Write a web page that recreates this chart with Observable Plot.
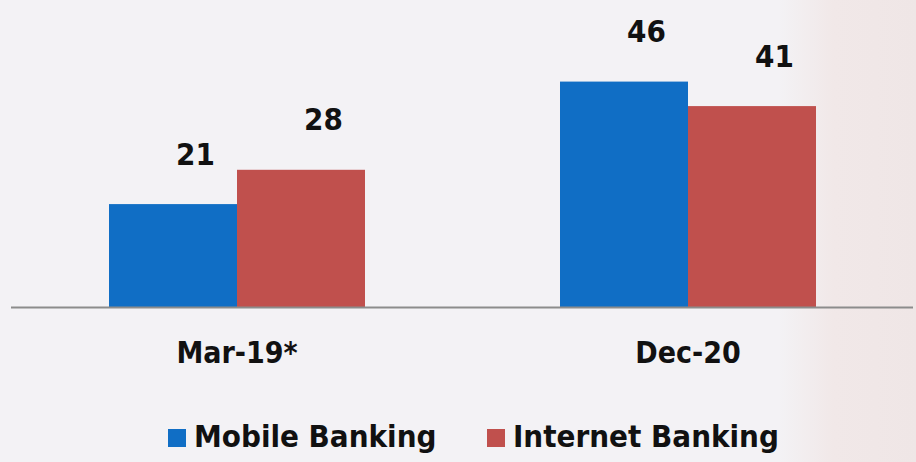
<!DOCTYPE html>
<html>
<head>
<meta charset="utf-8">
<script src="https://cdn.jsdelivr.net/npm/d3@7"></script>
<script src="https://cdn.jsdelivr.net/npm/@observablehq/plot@0.6"></script>
<style>
  html, body { margin: 0; padding: 0; }
  body {
    width: 916px; height: 462px; overflow: hidden;
    background: linear-gradient(to right, #f3f2f5 0%, #f3f2f5 85%, #f1e8e8 91%, #efe6e6 100%);
    font-family: "DejaVu Sans Condensed", "DejaVu Sans", sans-serif;
  }
  #legend {
    height: 52px; position: relative;
    font-weight: bold; font-size: 31px; color: #111;
  }
  .item { position: absolute; top: 8px; display: flex; align-items: center; }
  .sw { width: 18px; height: 18px; margin-right: 8px; margin-top: 4px; }
</style>
</head>
<body>
<div id="chart"></div>
<div id="legend"></div>
<script>
const periods = ["Mar-19*", "Dec-20"];
const series = ["Mobile Banking", "Internet Banking"];
const mobile = [21, 46];
const internet = [28, 41];
const colors = ["#106ec5", "#c0504d"];

const data = [];
periods.forEach((p, i) => {
  data.push({period: p, series: series[0], value: mobile[i]});
  data.push({period: p, series: series[1], value: internet[i]});
});

const chart = Plot.plot({
  width: 916,
  height: 410,
  marginLeft: 11,
  marginRight: 3,
  marginTop: 0,
  marginBottom: 103,
  style: {background: "transparent", fontFamily: "'DejaVu Sans Condensed', 'DejaVu Sans', sans-serif", color: "#111"},
  fx: {domain: periods, padding: 0, label: null},
  x: {domain: series, paddingInner: 0, paddingOuter: 0.755, axis: null},
  y: {domain: [0, 62.65], axis: null},
  color: {domain: series, range: colors},
  marks: [
    Plot.barY(data, {fx: "period", x: "series", y: "value", fill: "series"}),
    Plot.text(data, {fx: "period", x: "series", y: "value", text: d => String(d.value),
      dy: -40, dx: 22, lineAnchor: "bottom", fontSize: 31, fontWeight: "bold", fill: "#111"}),
    Plot.ruleY([0], {stroke: "#8c8c8c", strokeWidth: 2}),
    Plot.axisFx({anchor: "bottom", tickSize: 0, tickPadding: 34, fontSize: 30, fontWeight: "bold", label: null})
  ]
});
document.getElementById("chart").appendChild(chart);

const legend = document.getElementById("legend");
const lefts = [168, 487];
series.forEach((s, i) => {
  const it = document.createElement("div");
  it.className = "item";
  it.style.left = lefts[i] + "px";
  const sw = document.createElement("div");
  sw.className = "sw";
  sw.style.background = colors[i];
  const t = document.createElement("span");
  t.textContent = s;
  it.appendChild(sw); it.appendChild(t);
  legend.appendChild(it);
});
</script>
</body>
</html>
